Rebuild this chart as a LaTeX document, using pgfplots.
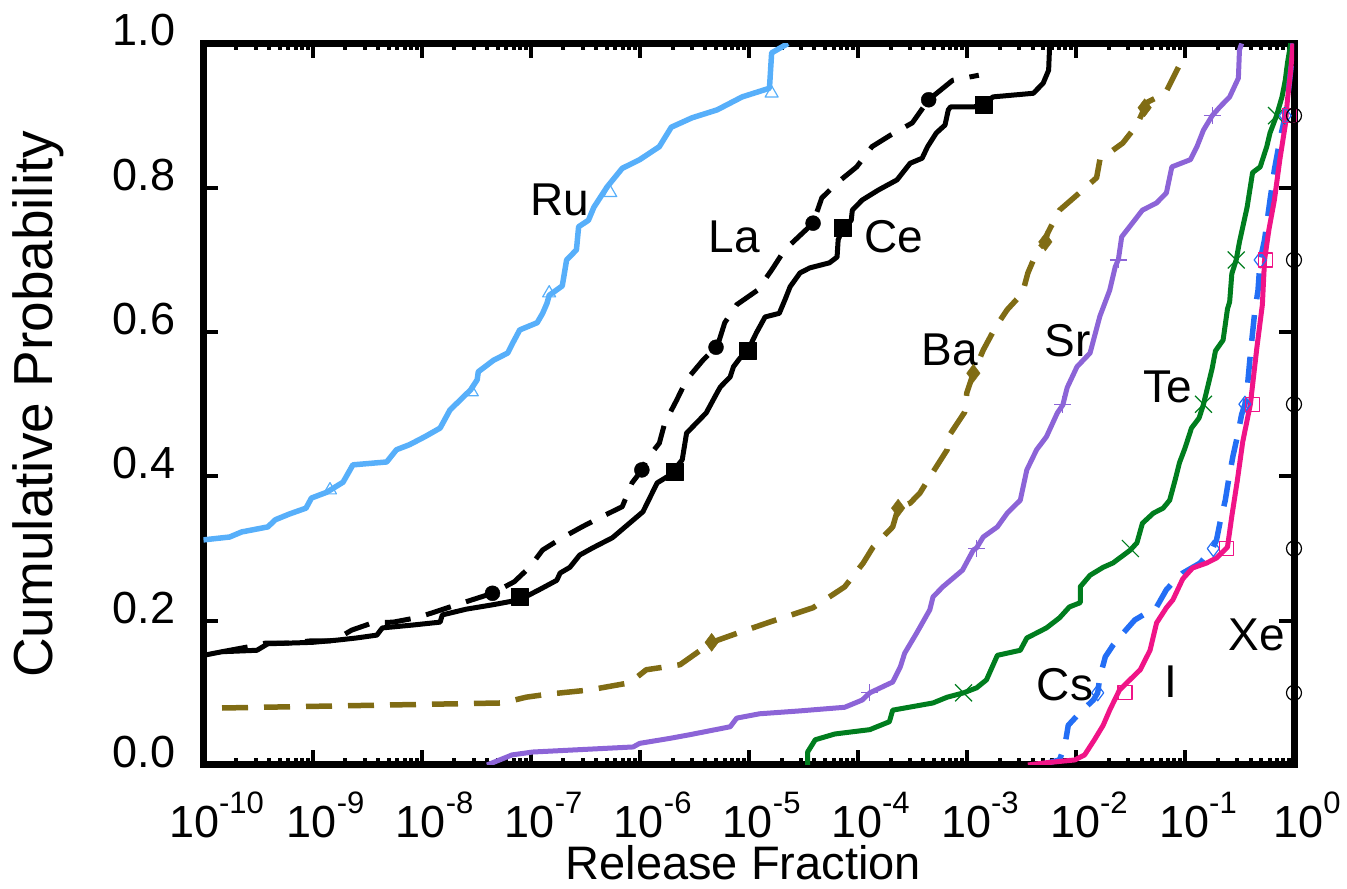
\documentclass[border=0pt]{standalone}
\usepackage{fontspec}
\setmainfont{Liberation Sans}
\usepackage{pgfplots}
\usepackage{pgfplotstable}
\pgfplotsset{compat=1.18}

\definecolor{ru}{RGB}{87,175,250}
\definecolor{ba}{RGB}{128,108,20}
\definecolor{sr}{RGB}{140,100,215}
\definecolor{te}{RGB}{0,125,30}
\definecolor{cs}{RGB}{35,110,245}
\definecolor{io}{RGB}{240,20,135}

\newcommand\lbl{\fontsize{46}{50}\selectfont}
\newcommand\dec[1]{10\raisebox{24pt}{\fontsize{31}{31}\selectfont #1}}

% lx = log10(release fraction), p = cumulative probability
\pgfplotstableread{
lx p
-10.00 0.312
-9.76 0.316
-9.65 0.323
-9.41 0.330
-9.34 0.340
-9.21 0.348
-9.06 0.356
-9.01 0.370
-8.87 0.378
-8.72 0.392
-8.63 0.416
-8.32 0.420
-8.23 0.437
-8.11 0.444
-7.97 0.455
-7.83 0.467
-7.74 0.492
-7.55 0.520
-7.49 0.534
-7.48 0.545
-7.34 0.561
-7.21 0.571
-7.16 0.586
-7.10 0.603
-6.94 0.613
-6.89 0.626
-6.85 0.640
-6.83 0.651
-6.71 0.664
-6.67 0.700
-6.58 0.714
-6.56 0.746
-6.47 0.755
-6.42 0.773
-6.30 0.801
-6.16 0.827
-6.00 0.839
-5.82 0.857
-5.71 0.884
-5.52 0.897
-5.29 0.908
-5.06 0.926
-4.81 0.938
-4.79 0.987
-4.64 1.000
}\ruT
\pgfplotstableread{
lx p
-8.84 0.381
-7.54 0.517
-6.83 0.654
-6.27 0.793
-4.79 0.931
}\ruM

\pgfplotstableread{
lx p
-9.83 0.157
-9.58 0.164
-9.43 0.169
-9.21 0.169
-9.02 0.172
-8.81 0.172
-8.64 0.187
-8.45 0.197
-8.26 0.198
-8.05 0.204
-7.90 0.211
-7.68 0.222
-7.35 0.238
-7.15 0.254
-7.01 0.274
-6.89 0.298
-6.71 0.315
-6.53 0.330
-6.35 0.344
-6.16 0.358
-6.07 0.391
-5.98 0.409
-5.94 0.423
-5.82 0.446
-5.77 0.474
-5.66 0.506
-5.57 0.534
-5.42 0.561
-5.30 0.579
-5.27 0.589
-5.22 0.613
-5.11 0.638
-4.92 0.658
-4.79 0.686
-4.67 0.714
-4.41 0.751
-4.33 0.786
-4.18 0.808
-4.01 0.829
-3.87 0.857
-3.70 0.873
-3.50 0.890
-3.35 0.922
-3.13 0.949
-2.89 0.956
}\laT
\pgfplotstableread{
lx p
-7.35 0.238
-5.98 0.409
-5.30 0.579
-4.41 0.751
-3.35 0.922
}\laM

\pgfplotstableread{
lx p
-10.00 0.152
-9.83 0.157
-9.51 0.159
-9.41 0.168
-9.00 0.170
-8.78 0.173
-8.60 0.176
-8.41 0.180
-8.36 0.190
-8.08 0.194
-7.83 0.198
-7.81 0.208
-7.59 0.216
-7.35 0.222
-7.10 0.229
-6.92 0.243
-6.76 0.256
-6.73 0.266
-6.64 0.274
-6.55 0.291
-6.43 0.301
-6.25 0.315
-5.97 0.351
-5.84 0.391
-5.72 0.402
-5.61 0.423
-5.57 0.460
-5.48 0.474
-5.39 0.488
-5.29 0.516
-5.26 0.524
-5.17 0.538
-5.14 0.552
-5.08 0.564
-5.01 0.574
-4.93 0.599
-4.85 0.621
-4.72 0.626
-4.67 0.644
-4.62 0.663
-4.53 0.682
-4.44 0.689
-4.26 0.696
-4.19 0.704
-4.18 0.728
-4.14 0.742
-4.06 0.755
-4.05 0.769
-3.96 0.783
-3.81 0.797
-3.64 0.811
-3.52 0.834
-3.41 0.841
-3.36 0.857
-3.28 0.876
-3.20 0.887
-3.17 0.908
-3.15 0.912
-2.94 0.912
-2.85 0.915
-2.76 0.926
-2.39 0.931
-2.30 0.945
-2.25 0.963
-2.24 1.000
}\ceT
\pgfplotstableread{
lx p
-7.10 0.233
-5.68 0.406
-5.01 0.574
-4.14 0.744
-2.85 0.915
}\ceM

\pgfplotstableread{
lx p
-9.83 0.079
-7.26 0.086
-7.04 0.094
-6.85 0.098
-6.46 0.104
-6.09 0.114
-5.94 0.132
-5.63 0.139
-5.34 0.170
-5.08 0.184
-4.81 0.198
-4.53 0.212
-4.41 0.218
-4.21 0.238
-4.12 0.247
-3.95 0.280
-3.86 0.302
-3.68 0.330
-3.63 0.356
-3.52 0.363
-3.43 0.377
-3.34 0.399
-3.18 0.437
-3.16 0.457
-3.02 0.489
-3.00 0.516
-2.96 0.534
-2.94 0.543
-2.85 0.575
-2.74 0.606
-2.63 0.631
-2.49 0.654
-2.44 0.682
-2.35 0.714
-2.28 0.725
-2.26 0.737
-2.15 0.769
-1.99 0.790
-1.81 0.814
-1.78 0.839
-1.57 0.862
-1.44 0.887
-1.37 0.911
-1.34 0.919
-1.18 0.931
-1.06 0.967
}\baT
\pgfplotstableread{
lx p
-5.34 0.170
-3.63 0.356
-2.94 0.543
-2.28 0.725
-1.37 0.911
}\baM

\pgfplotstableread{
lx p
-7.40 0.000
-7.17 0.014
-6.98 0.018
-6.06 0.025
-6.00 0.030
-5.72 0.037
-5.54 0.042
-5.17 0.053
-5.11 0.065
-4.90 0.071
-4.53 0.075
-4.12 0.080
-3.96 0.090
-3.89 0.100
-3.68 0.115
-3.61 0.136
-3.57 0.155
-3.46 0.183
-3.34 0.215
-3.31 0.233
-3.22 0.247
-3.04 0.270
-2.94 0.298
-2.91 0.301
-2.85 0.316
-2.72 0.330
-2.63 0.349
-2.51 0.367
-2.45 0.409
-2.36 0.437
-2.27 0.455
-2.17 0.488
-2.12 0.499
-2.08 0.523
-1.99 0.552
-1.87 0.571
-1.78 0.622
-1.69 0.658
-1.64 0.690
-1.61 0.701
-1.58 0.732
-1.39 0.769
-1.26 0.779
-1.17 0.793
-1.12 0.829
-0.95 0.839
-0.89 0.857
-0.83 0.880
-0.75 0.900
-0.68 0.912
-0.59 0.926
-0.51 0.952
-0.50 0.991
-0.48 1.000
}\srT
\pgfplotstableread{
lx p
-3.89 0.1
-2.91 0.3
-2.12 0.5
-1.61 0.7
-0.75 0.9
}\srM

\pgfplotstableread{
lx p
-4.46 0.000
-4.46 0.018
-4.39 0.035
-4.21 0.043
-3.89 0.049
-3.71 0.060
-3.68 0.076
-3.31 0.086
-3.18 0.094
-3.03 0.100
-2.91 0.107
-2.82 0.118
-2.72 0.152
-2.51 0.159
-2.45 0.176
-2.27 0.190
-2.15 0.204
-2.06 0.219
-1.96 0.225
-1.96 0.247
-1.87 0.263
-1.75 0.274
-1.66 0.280
-1.50 0.298
-1.44 0.308
-1.39 0.335
-1.29 0.349
-1.20 0.356
-1.14 0.367
-1.09 0.395
-1.05 0.419
-1.00 0.439
-0.94 0.467
-0.87 0.481
-0.83 0.500
-0.75 0.550
-0.72 0.574
-0.65 0.589
-0.61 0.632
-0.59 0.642
-0.57 0.681
-0.53 0.700
-0.50 0.725
-0.43 0.773
-0.38 0.821
-0.31 0.829
-0.25 0.857
-0.22 0.876
-0.16 0.900
-0.11 0.926
-0.08 0.949
-0.06 0.973
-0.04 0.991
-0.03 1.000
}\teT
\pgfplotstableread{
lx p
-3.03 0.1
-1.50 0.3
-0.83 0.5
-0.53 0.7
-0.16 0.9
}\teM

\pgfplotstableread{
lx p
-2.33 0.000
-2.15 0.007
-2.10 0.028
-2.07 0.055
-1.96 0.073
-1.84 0.090
-1.80 0.100
-1.78 0.122
-1.73 0.150
-1.66 0.166
-1.60 0.177
-1.46 0.201
-1.26 0.219
-1.17 0.243
-1.09 0.256
-1.02 0.266
-0.86 0.280
-0.74 0.302
-0.71 0.312
-0.68 0.335
-0.63 0.367
-0.60 0.395
-0.56 0.428
-0.52 0.455
-0.48 0.486
-0.45 0.500
-0.43 0.520
-0.40 0.570
-0.36 0.628
-0.33 0.658
-0.31 0.700
-0.27 0.728
-0.22 0.783
-0.18 0.825
-0.13 0.866
-0.08 0.900
-0.05 0.936
-0.02 0.977
-0.01 1.000
}\csT
\pgfplotstableread{
lx p
-1.80 0.1
-0.74 0.3
-0.45 0.5
-0.31 0.7
-0.08 0.9
}\csM

\pgfplotstableread{
lx p
-2.44 0.000
-2.28 0.003
-2.01 0.007
-1.92 0.014
-1.83 0.035
-1.75 0.055
-1.69 0.076
-1.60 0.104
-1.41 0.132
-1.32 0.159
-1.26 0.197
-1.17 0.218
-1.11 0.229
-1.02 0.258
-0.93 0.273
-0.80 0.280
-0.71 0.287
-0.61 0.302
-0.57 0.345
-0.52 0.394
-0.47 0.448
-0.40 0.500
-0.34 0.579
-0.29 0.638
-0.27 0.700
-0.23 0.742
-0.18 0.783
-0.13 0.839
-0.08 0.887
-0.06 0.922
-0.03 0.963
-0.01 1.000
}\ioT
\pgfplotstableread{
lx p
-1.55 0.1
-0.62 0.3
-0.38 0.5
-0.26 0.7
-0.04 0.9
}\ioM

\pgfplotstableread{
lx p
0 0.0
0 1.0
}\xeT
\pgfplotstableread{
lx p
0 0.1
0 0.3
0 0.5
0 0.7
0 0.9
}\xeM

\begin{document}
\begin{tikzpicture}
\useasboundingbox (0,0) rectangle (1347pt,889pt);
\begin{axis}[
  at={(203.5pt,124pt)}, anchor=south west,
  scale only axis, width=1090.5pt, height=721.5pt,
  xmode=log, xmin=1e-10, xmax=1, ymin=0, ymax=1,
  xtick={1e-10,1e-9,1e-8,1e-7,1e-6,1e-5,1e-4,1e-3,1e-2,1e-1,1},
  xticklabels={\dec{-10},\dec{-9},\dec{-8},\dec{-7},\dec{-6},\dec{-5},\dec{-4},\dec{-3},\dec{-2},\dec{-1},\dec{0}},
  minor xtick={2e-10,3e-10,4e-10,5e-10,6e-10,7e-10,8e-10,9e-10,
    2e-9,3e-9,4e-9,5e-9,6e-9,7e-9,8e-9,9e-9,
    2e-8,3e-8,4e-8,5e-8,6e-8,7e-8,8e-8,9e-8,
    2e-7,3e-7,4e-7,5e-7,6e-7,7e-7,8e-7,9e-7,
    2e-6,3e-6,4e-6,5e-6,6e-6,7e-6,8e-6,9e-6,
    2e-5,3e-5,4e-5,5e-5,6e-5,7e-5,8e-5,9e-5,
    2e-4,3e-4,4e-4,5e-4,6e-4,7e-4,8e-4,9e-4,
    2e-3,3e-3,4e-3,5e-3,6e-3,7e-3,8e-3,9e-3,
    2e-2,3e-2,4e-2,5e-2,6e-2,7e-2,8e-2,9e-2,
    2e-1,3e-1,4e-1,5e-1,6e-1,7e-1,8e-1,9e-1},
  ytick={0,0.2,0.4,0.6,0.8,1},
  yticklabels={0.0,0.2,0.4,0.6,0.8,1.0},
  tick align=inside,
  major tick length=15pt, minor tick length=7pt,
  every tick/.style={black, line width=4pt},
  axis line style={line width=7pt},
  tick label style={font=\fontsize{45}{50}\selectfont},
  yticklabel style={anchor=east, inner sep=0pt, xshift=-28pt, yshift=13pt},
  xticklabel style={anchor=north, inner sep=0pt, yshift=-27pt, xshift=13pt},
  xlabel={Release Fraction}, ylabel={Cumulative Probability},
  xlabel style={font=\fontsize{47}{50}\selectfont, inner sep=0pt,
    at={(rel axis cs:0.495,-0.1580)}, anchor=base},
  ylabel style={font=\fontsize{55}{60}\selectfont, inner sep=0pt,
    at={(rel axis cs:-0.138,0.5)}, anchor=base},
  every axis plot/.append style={line join=round},
  table/x expr={10^(\thisrow{lx})}, table/y=p,
]
% Ru
\addplot[ru, line width=5.5pt, mark=none] table {\ruT};
\addplot[ru, only marks, mark=triangle, mark size=7.5pt, mark options={line width=1.2pt}] table {\ruM};
% La
\addplot[black, line width=5pt, dash pattern=on 26pt off 16pt, mark=none] table {\laT};
\addplot[black, only marks, mark=*, mark size=7.5pt] table {\laM};
% Ce
\addplot[black, line width=5pt, mark=none] table {\ceT};
\addplot[black, only marks, mark=square*, mark size=8.5pt] table {\ceM};
% Ba
\addplot[ba, line width=5.5pt, dash pattern=on 26pt off 16pt, mark=none] table {\baT};
\addplot[ba, only marks, mark=diamond*, mark size=9pt] table {\baM};
% Sr
\addplot[sr, line width=5pt, mark=none] table {\srT};
\addplot[sr, only marks, mark=+, mark size=8.5pt, mark options={line width=1.2pt}] table {\srM};
% Te
\addplot[te, line width=5pt, mark=none] table {\teT};
\addplot[te, only marks, mark=x, mark size=12pt, mark options={line width=1.2pt}] table {\teM};
% Cs
\addplot[cs, line width=5.5pt, dash pattern=on 26pt off 16pt, mark=none] table {\csT};
\addplot[cs, only marks, mark=diamond, mark size=8pt, mark options={line width=1.2pt}] table {\csM};
% I
\addplot[io, line width=5pt, mark=none] table {\ioT};
\addplot[io, only marks, mark=square, mark size=7pt, mark options={line width=1.2pt}] table {\ioM};
% Xe
\addplot[black, line width=1pt, mark=none] table {\xeT};
\addplot[black, only marks, mark=o, mark size=7.5pt, mark options={line width=1.2pt}] table {\xeM};

\node[anchor=base, font=\lbl] at (rel axis cs:0.327,0.762) {Ru};
\node[anchor=base, font=\lbl] at (rel axis cs:0.4865,0.710) {La};
\node[anchor=base, font=\lbl] at (rel axis cs:0.633,0.711) {Ce};
\node[anchor=base, font=\lbl] at (rel axis cs:0.6845,0.554) {Ba};
\node[anchor=base, font=\lbl] at (rel axis cs:0.7927,0.5655) {Sr};
\node[anchor=base, font=\lbl] at (rel axis cs:0.8845,0.503) {Te};
\node[anchor=base, font=\lbl] at (rel axis cs:0.790,0.090) {Cs};
\node[anchor=base, font=\lbl] at (rel axis cs:0.887,0.094) {I};
\node[anchor=base, font=\lbl] at (rel axis cs:0.966,0.159) {Xe};
\end{axis}
\end{tikzpicture}
\end{document}
